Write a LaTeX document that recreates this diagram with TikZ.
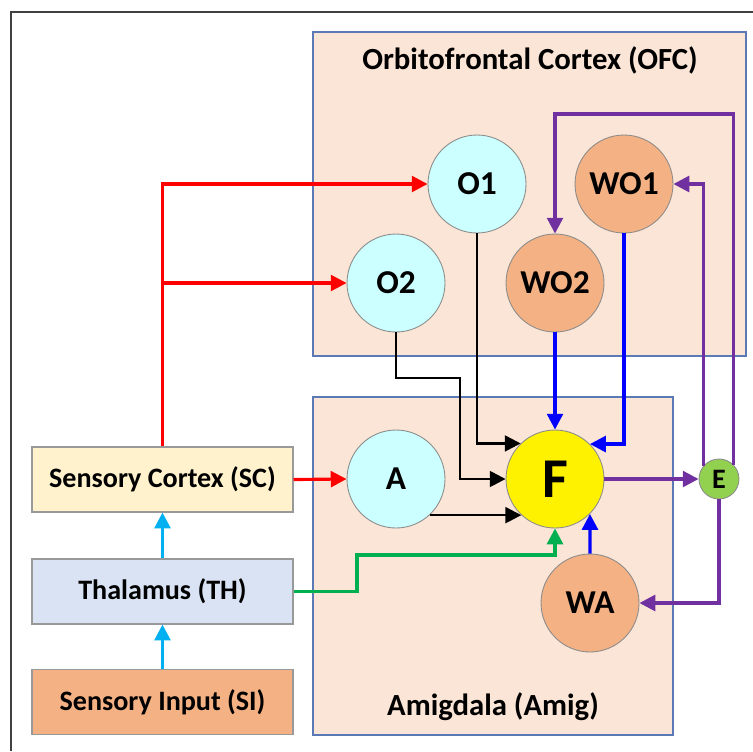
\documentclass[tikz,border=0pt]{standalone}
\usepackage{fontspec}
\setmainfont{Carlito}
\usepackage{xcolor}
\usetikzlibrary{arrows.meta, positioning, fit, calc}

\definecolor{peach}{HTML}{FBE5D6}
\definecolor{groupline}{HTML}{5B79B4}
\definecolor{cyanfill}{HTML}{CCFFFF}
\definecolor{orangefill}{HTML}{F4B183}
\definecolor{greenfill}{HTML}{92D050}
\definecolor{scfill}{HTML}{FFF2CC}
\definecolor{thfill}{HTML}{DAE3F3}
\definecolor{purpleline}{HTML}{7030A0}
\definecolor{greenline}{HTML}{00B050}
\definecolor{skyline}{HTML}{00B0F0}

\begin{document}
\begin{tikzpicture}[
        x=0.02cm, y=-0.02cm,
        group/.style={rectangle, draw=groupline, line width=0.8pt, fill=peach, inner sep=0pt},
        title/.style={font=\fontsize{17.5}{20}\selectfont\bfseries},
        box/.style={rectangle, draw=gray!80, line width=0.6pt, minimum width=5.22cm, minimum height=1.3cm, align=center, font=\fontsize{16}{18}\selectfont\bfseries},
        unit/.style={circle, draw=gray!90, line width=0.5pt, minimum size=1.96cm, inner sep=0pt, font=\fontsize{19}{21}\selectfont\bfseries},
        arrow/.style={-{Triangle[length=9pt, width=9pt]}, line width=1.8pt},
        thinarrow/.style={arrow, black, line width=1.4pt}
    ]
        \useasboundingbox (0,0) rectangle (753,751);

        % Outer frame
        \coordinate (fbl) at (11,751);
        \coordinate (ftl) at (11,12);
        \coordinate (ftr) at (753,12);
        \draw[line width=0.9pt, black!75] (fbl) -- (ftl) -- (ftr);

        % Orbitofrontal Cortex & Amigdala
        \node[group, fit={(313,32) (746,356)}] (ofc) {};
        \node[title] (ofctitle) at (530,60) {Orbitofrontal Cortex (OFC)};
        \node[group, fit={(313,397) (673,735)}] (amig) {};
        \node[title] (amigtitle) at (493,707) {Amigdala (Amig)};

        % Sensory path
        \node[box, fill=scfill] (sc) at (162.5,479.5) {Sensory Cortex (SC)};
        \node[box, fill=thfill] (th) at (162.5,591.5) {Thalamus (TH)};
        \node[box, fill=orangefill] (si) at (162.5,702) {Sensory Input (SI)};

        % Units
        \node[unit, fill=cyanfill] (o1) at (477,184) {O1};
        \node[unit, fill=cyanfill] (o2) at (396,283) {O2};
        \node[unit, fill=orangefill] (wo1) at (624,184) {WO1};
        \node[unit, fill=orangefill] (wo2) at (555,283) {WO2};
        \node[unit, fill=cyanfill] (a) at (396,479) {A};
        \node[unit, fill=yellow, font=\fontsize{32}{34}\selectfont\bfseries] (f) at (555,479) {F};
        \node[unit, fill=orangefill] (wa) at (590,603) {WA};
        \node[circle, draw=gray!90, line width=0.5pt, fill=greenfill, minimum size=0.8cm, inner sep=0pt, font=\fontsize{16}{18}\selectfont\bfseries] (e) at (719,479) {E};

        % Bends
        \coordinate (gbend) at (357,555);
        \coordinate (obend) at (460,378);
        \coordinate (etop) at (555,114);

        % Sensory connections
        \draw[arrow, skyline] (si) -- (th);
        \draw[arrow, skyline] (th) -- (sc);
        \draw[arrow, red] (sc.north) |- (o1.west);
        \draw[arrow, red] (sc.north |- o2.west) -- (o2.west);
        \draw[arrow, red] (sc.east) -- (a.west);
        \draw[arrow, greenline] (th.east) -| (gbend) -| (f.south);

        % Into F
        \draw[thinarrow] (o1.south) |- (f.134);
        \draw[thinarrow] (o2.south) |- (obend) |- (f.west);
        \draw[thinarrow] (a.-47) -- (f.-133);
        \draw[arrow, blue] (wo2.south) -- (f.north);
        \draw[arrow, blue] (wo1.south) |- (f.45);
        \draw[arrow, blue] (wa.north) -- (f.-45);

        % Error feedback
        \draw[arrow, purpleline] (f.east) -- (e.west);
        \draw[arrow, purpleline] (e.139) |- (wo1.east);
        \draw[arrow, purpleline] (e.45) |- (etop) -- (wo2.north);
        \draw[arrow, purpleline] (e.south) |- (wa.east);

    \end{tikzpicture}
\end{document}
